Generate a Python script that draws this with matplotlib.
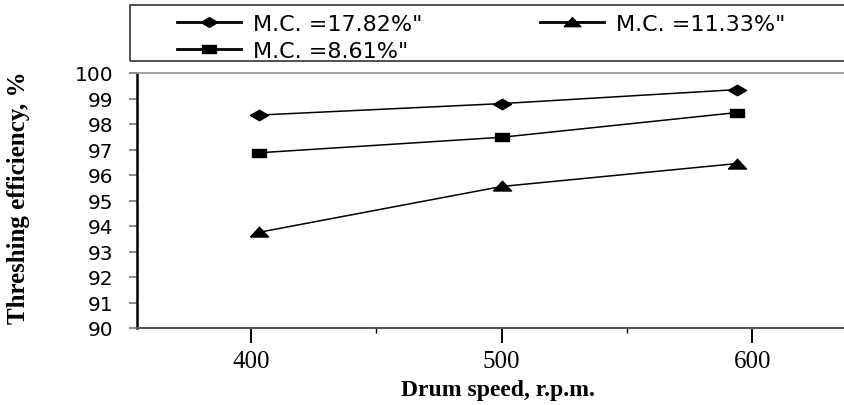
import matplotlib
matplotlib.use("Agg")
import matplotlib.pyplot as plt
from matplotlib.lines import Line2D
from matplotlib.patches import Rectangle
from matplotlib.ticker import MultipleLocator

# drum speed, r.p.m.
speed = [403, 500, 594]

# threshing efficiency, % for each moisture content
eff_1782 = [98.35, 98.8, 99.35]
eff_1133 = [93.75, 95.55, 96.45]
eff_861 = [96.87, 97.48, 98.45]

labels = ['M.C. =17.82%"', 'M.C. =11.33%"', 'M.C. =8.61%"']

SANS = "DejaVu Sans"
SERIF = "Liberation Serif"

# the source chart is stretched sideways, so the markers are wide and flat
DIAMOND = [(-1, 0), (0, 0.58), (1, 0), (0, -0.58), (-1, 0)]
SQUARE = [(-1, -0.6), (1, -0.6), (1, 0.6), (-1, 0.6), (-1, -0.6)]
TRIANGLE = [(-1, -0.5), (1, -0.5), (0, 0.58), (-1, -0.5)]

W, H = 845, 406
fig = plt.figure(figsize=(W / 100, H / 100), dpi=100)

# plot area in pixels
left, right, top, bottom = 137, 845, 74, 329
ax = fig.add_axes([left / W, 1 - bottom / H, (right - left) / W, (bottom - top) / H])

style = dict(color="black", lw=1.1)
ax.plot(speed, eff_1782, marker=DIAMOND, ms=13, zorder=3, **style)
ax.plot(speed, eff_1133, marker=TRIANGLE, ms=13, zorder=3, **style)
ax.plot(speed, eff_861, marker=SQUARE, ms=10.5, zorder=3, **style)

ax.set_ylim(90, 100)
ax.set_xlim(354.5, 637)
ax.yaxis.set_major_locator(MultipleLocator(1))
ax.xaxis.set_major_locator(MultipleLocator(100))
ax.xaxis.set_minor_locator(MultipleLocator(50))

ax.spines["right"].set_visible(False)
ax.spines["left"].set_color("black")
ax.spines["left"].set_linewidth(1.8)
ax.spines["bottom"].set_color("#555555")
ax.spines["bottom"].set_linewidth(1.5)
ax.spines["top"].set_color("#9a9a9a")
ax.spines["top"].set_linewidth(1.3)

ax.tick_params(axis="y", direction="out", length=6, width=1.2, color="#777777", pad=11)
ax.tick_params(axis="x", which="major", direction="out", length=11, width=1.4, color="black", pad=5)
ax.tick_params(axis="x", which="minor", direction="out", length=3.5, width=1, color="black")

for t in ax.get_yticklabels():
    t.set_fontfamily(SANS)
    t.set_fontsize(14.5)
for t in ax.get_xticklabels():
    t.set_fontfamily(SERIF)
    t.set_fontsize(18)

fig.text(498 / W, 1 - 391 / H, "Drum speed, r.p.m.", ha="center", va="center",
         fontfamily=SERIF, fontweight="bold", fontsize=17)
fig.text(19 / W, 1 - 198 / H, "Threshing efficiency, %", rotation=90, ha="center", va="center",
         fontfamily=SERIF, fontweight="bold", fontsize=18)

# legend: framed strip across the top, running off the right edge
fig.patches.append(Rectangle((130 / W, 1 - 62 / H), (W + 20 - 130) / W, 56 / H,
                             transform=fig.transFigure, fill=False, edgecolor="#333333", lw=1.2))

leg_style = dict(color="black", lw=2.0)
h_1782 = Line2D([], [], marker=DIAMOND, ms=12, **leg_style)
h_1133 = Line2D([], [], marker=TRIANGLE, ms=12, **leg_style)
h_861 = Line2D([], [], marker=SQUARE, ms=10, **leg_style)

leg_kw = dict(loc="upper left", frameon=False, prop={"family": SANS, "size": 16},
              handlelength=2.9, handletextpad=0.5, borderpad=0, borderaxespad=0,
              labelspacing=0.3)
leg1 = fig.legend([h_1782, h_861], [labels[0], labels[2]],
                  bbox_to_anchor=(177 / W, 1 - 15 / H), **leg_kw)
leg2 = fig.legend([h_1133], [labels[1]],
                  bbox_to_anchor=(540 / W, 1 - 15 / H), **leg_kw)

fig.savefig("out.png", dpi=100)
